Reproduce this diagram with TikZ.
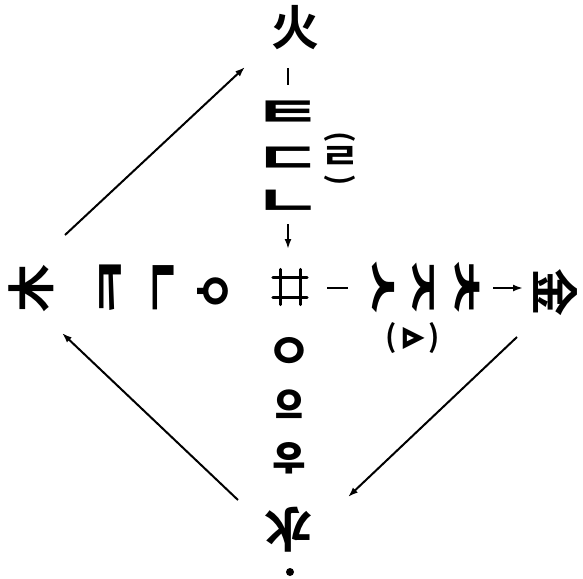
\documentclass[tikz,border=0pt]{standalone}
\usepackage{fontspec}
\newfontfamily\kr{Noto Sans CJK KR}[BoldFont={Noto Sans CJK KR Bold}]
\usetikzlibrary{arrows.meta}
\newcommand{\wj}[1]{\scalebox{1.8}[1]{#1}}
\newcommand{\fxa}{{\rmfamily\textcolor{white}{x}}}
\newcommand{\fxb}{{\rmfamily\phantom{x}}}
\begin{document}
\begin{tikzpicture}[x=1pt,y=-1pt,
  jamo/.style={font=\kr\bfseries\fontsize{42}{42}\selectfont, inner sep=0pt},
  ring/.style={font=\kr\bfseries\fontsize{50}{50}\selectfont, inner sep=0pt},
  hanja/.style={font=\kr\bfseries\fontsize{48}{48}\selectfont, inner sep=0pt},
  notej/.style={font=\kr\bfseries\fontsize{36}{36}\selectfont, inner sep=0pt},
  paren/.style={font=\kr\bfseries\fontsize{30}{30}\selectfont, inner sep=0pt},
  link/.style={line width=2pt},
  flow/.style={line width=2pt, -{Latex[length=10pt,width=7pt]}},
  hashline/.style={line width=3pt, line cap=round}]
\useasboundingbox (0,0) rectangle (583,578);
% right: metal
\node[notej, rotate=-90] (s4) at (412,338) {\fxa\scalebox{1.2}[1]{ㅿ}\fxb};
\node[jamo, rotate=-90] (s1) at (381,287) {\fxa\wj{ㅅ}\fxb};
\node[jamo, rotate=-90] (s2) at (421,287) {\fxa\wj{ㅈ}\fxb};
\node[jamo, rotate=-90] (s3) at (465,287) {\fxa\wj{ㅊ}\fxb};
\node[hanja, rotate=-90] (metal) at (555,292) {\fxa 金\fxb};
\node[paren] (s4a) at (391,338) {(};
\node[paren] (s4b) at (434,338) {)};
\coordinate (mb1) at (327,288);
\coordinate (mb2) at (348,288);
\draw[link] (mb1) -- (mb2);
\coordinate (ma1) at (493,288);
\coordinate (ma2) at (523,288);
\draw[flow] (ma1) -- (ma2);
% left: wood
\node[hanja, rotate=90] (wood) at (31,288) {\fxa 木\fxb};
\node[jamo, rotate=90] (k1) at (113,288) {\fxa\wj{ㅋ}\fxb};
\node[jamo, rotate=90] (k2) at (166,288) {\fxa\wj{ㄱ}\fxb};
\node[ring, rotate=90] (k3) at (215,291) {\fxa ㆁ\fxb};
% top: fire
\node[paren, rotate=-90] (t4a) at (340,137) {\fxa(\fxb};
\node[paren, rotate=-90] (t4b) at (340,180) {\fxa)\fxb};
\node[notej] (t4) at (340,158) {\scalebox{1.2}[1]{ㄹ}};
\node[hanja] (fire) at (295,28) {火};
\node[jamo] (t1) at (288,114) {\wj{ㅌ}};
\node[jamo] (t2) at (288,160) {\wj{ㄷ}};
\node[jamo] (t3) at (288,203) {\wj{ㄴ}};
\coordinate (fb1) at (288,68);
\coordinate (fb2) at (288,85);
\draw[link] (fb1) -- (fb2);
\coordinate (fa1) at (288,224);
\coordinate (fa2) at (288,249);
\draw[flow] (fa1) -- (fa2);
% centre
\node[minimum width=34pt, minimum height=35pt, inner sep=0pt] (c) at (290,287) {};
\draw[hashline] ([xshift=-10pt]c.north) -- ([xshift=-10pt]c.south);
\draw[hashline] ([xshift=10pt]c.north) -- ([xshift=10pt]c.south);
\draw[hashline] ([yshift=-10pt]c.west) -- ([yshift=-10pt]c.east);
\draw[hashline] ([yshift=10pt]c.west) -- ([yshift=10pt]c.east);
% bottom: water
\node[hanja, rotate=180] (water) at (288,530) {水};
\node[ring, rotate=180] (o1) at (289,348) {ㅇ};
\node[ring, rotate=180] (o2) at (289,402) {ㆆ};
\node[ring, rotate=180] (o3) at (289,456) {ㅎ};
\node[circle, fill, inner sep=0pt, minimum size=8pt] (dot) at (290,572) {};
% cycle arrows
\coordinate (w1) at (65,235);
\coordinate (f1) at (245,67);
\draw[flow] (w1) -- (f1);
\coordinate (m1) at (517,337);
\coordinate (wa1) at (348,497);
\draw[flow] (m1) -- (wa1);
\coordinate (wa2) at (238,500);
\coordinate (w2) at (62,333);
\draw[flow] (wa2) -- (w2);
\end{tikzpicture}
\end{document}
